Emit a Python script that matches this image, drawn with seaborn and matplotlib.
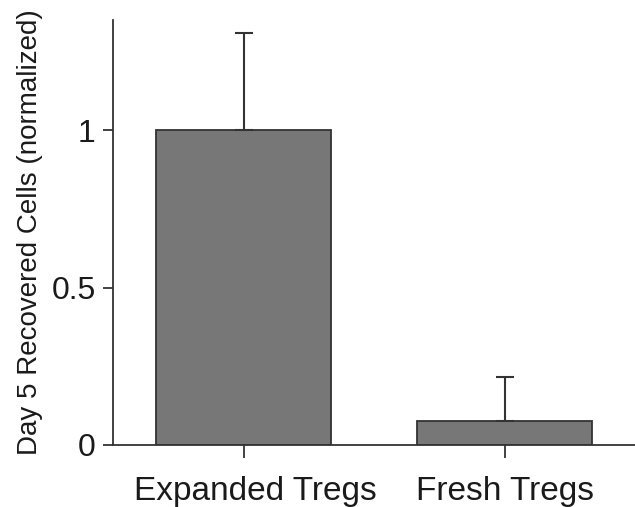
import matplotlib
matplotlib.use("Agg")
import matplotlib.pyplot as plt
import matplotlib.transforms as mtransforms
import seaborn as sns
import pandas as pd

# Data
GROUPS = ["Expanded Tregs", "Fresh Tregs"]
MEANS = [1.0, 0.077]
ERR_UP = [0.31, 0.14]

sns.set_theme(style="ticks")
plt.rcParams["font.family"] = ["Liberation Sans", "DejaVu Sans"]

df = pd.DataFrame({"group": GROUPS, "value": MEANS})

fig = plt.figure(figsize=(6.35, 5.07), dpi=100)
ax = fig.add_axes([113 / 635, 1 - 445 / 507, 1 - 113 / 635, (445 - 20) / 507])

sns.barplot(data=df, x="group", y="value", color="#777777", saturation=1,
            edgecolor="#333333", linewidth=1.3, width=0.668, errorbar=None, ax=ax)

ax.errorbar(range(len(GROUPS)), MEANS, yerr=[[0] * len(GROUPS), ERR_UP],
            fmt="none", ecolor="#333333", elinewidth=1.5, capsize=6.5, capthick=1.5)

ax.set_xlim(-0.5, 1.5)
ax.set_ylim(0, 1.35)
ax.set_yticks([0, 0.5, 1])
ax.set_yticklabels(["0", "0.5", "1"])
ax.set_xlabel("")
ax.set_ylabel("Day 5 Recovered Cells (normalized)", fontsize=20, color="#1a1a1a", labelpad=6)
ax.tick_params(axis="both", direction="out", colors="#333333",
               labelcolor="#1a1a1a", width=1.3)
ax.tick_params(axis="y", length=7.5, pad=5, labelsize=23)
ax.tick_params(axis="x", length=9.5, pad=13, labelsize=24)

# first category label sits a little right of its tick in the original
first = ax.get_xticklabels()[0]
first.set_transform(first.get_transform() +
                    mtransforms.ScaledTranslation(12 / 100, 0, fig.dpi_scale_trans))

sns.despine(ax=ax)
for s in ["left", "bottom"]:
    ax.spines[s].set_color("#333333")
    ax.spines[s].set_linewidth(1.3)

fig.savefig("out.png", dpi=100)
